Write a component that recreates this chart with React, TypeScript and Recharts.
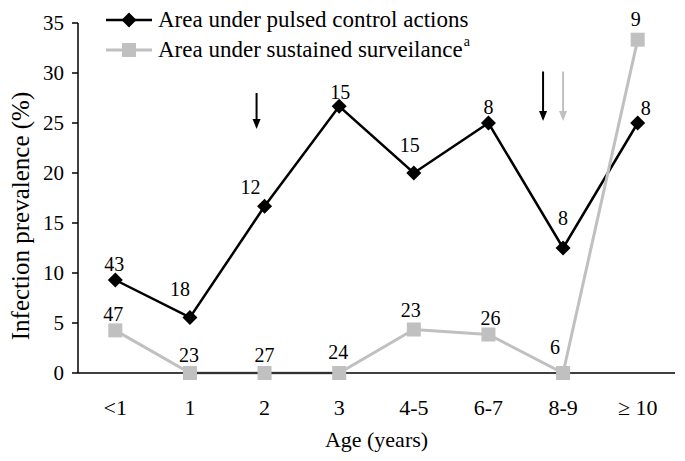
import React from 'react';
import { ComposedChart, Line, XAxis, YAxis, ReferenceLine, LabelList, Legend, Label } from 'recharts';

// ---- data ----
const ageGroups = ['<1', '1', '2', '3', '4-5', '6-7', '8-9', '\u2265 10'];
const pulsedPrevalence = [9.3, 5.56, 16.67, 26.67, 20.0, 25.0, 12.5, 25.0];
const sustainedPrevalence = [4.26, 0, 0, 0, 4.35, 3.85, 0, 33.33];
const pulsedSampleSizes = [43, 18, 12, 15, 15, 8, 8, 8];
const sustainedSampleSizes = [47, 23, 27, 24, 23, 26, 6, 9];
const yTicks = [0, 5, 10, 15, 20, 25, 30, 35];
const boundaryTicks = [0, 1, 2, 3, 4, 5, 6, 7, 8];
const pulsedArrowAges = ['2', '8-9'];
const sustainedArrowAges = ['8-9'];
const seriesNames = ['Area under pulsed control actions', 'Area under sustained surveilance'];

const data = ageGroups.map((age, i) => ({
  age,
  pulsed: pulsedPrevalence[i],
  sustained: sustainedPrevalence[i],
  nPulsed: pulsedSampleSizes[i],
  nSustained: sustainedSampleSizes[i],
}));

// ---- styles ----
const FONT = '"Liberation Serif", "Times New Roman", serif';
const BLACK = '#000000';
const GRAY = '#c0c0c0';

// label offsets (px) relative to each point
const pulsedLabelOffsets = [[-1, -16], [-10, -28], [-14, -19], [1, -14], [-4, -28], [0, -16], [0, -30], [8, -15]];
const sustainedLabelOffsets = [[-2, -16], [-1, -18], [0, -18], [-1, -21], [-3, -20], [2, -17], [-8, -26], [-2, -21]];
// arrow placement: [dx px, top value, tip value]
const pulsedArrowStyle = [[-8, 28.0, 24.4], [-20, 30.15, 25.2]];
const sustainedArrowStyle = [[0, 30.15, 25.2]];

const diamondDot = (props: any) => {
  const { cx, cy, index } = props;
  if (cx == null || cy == null) return <g key={`pd-${index}`} />;
  const r = 7.5;
  return (
    <path key={`pd-${index}`} d={`M${cx},${cy - r}L${cx + r},${cy}L${cx},${cy + r}L${cx - r},${cy}Z`} fill={BLACK} />
  );
};

const squareDot = (props: any) => {
  const { cx, cy, index } = props;
  if (cx == null || cy == null) return <g key={`sd-${index}`} />;
  const h = 7;
  return <rect key={`sd-${index}`} x={cx - h} y={cy - h} width={2 * h} height={2 * h} fill={GRAY} />;
};

const makeLabel = (offsets: number[][]) => (props: any) => {
  const { x, y, index, value } = props;
  if (x == null || y == null) return null;
  const [dx, dy] = offsets[index] || [0, -16];
  return (
    <text
      key={`lbl-${index}-${value}`}
      x={x + dx}
      y={y + dy}
      textAnchor="middle"
      dominantBaseline="central"
      fontFamily={FONT}
      fontSize={20}
      fill={BLACK}
    >
      {value}
    </text>
  );
};

const makeArrow = (color: string, dx: number) => (p: any) => {
  const x = p.x1 + dx;
  const yTop = Math.min(p.y1, p.y2);
  const yTip = Math.max(p.y1, p.y2);
  return (
    <g>
      <line x1={x} y1={yTop} x2={x} y2={yTip - 8} stroke={color} strokeWidth={2} />
      <polygon points={`${x - 4},${yTip - 10} ${x + 4},${yTip - 10} ${x},${yTip}`} fill={color} />
    </g>
  );
};

const LegendContent = () => (
  <div style={{ fontFamily: FONT, fontSize: 23, color: BLACK, lineHeight: '30px' }}>
    <div style={{ display: 'flex', alignItems: 'center', height: 30 }}>
      <svg width={46} height={16} style={{ display: 'block' }}>
        <line x1={0} y1={8} x2={46} y2={8} stroke={BLACK} strokeWidth={2.5} />
        <path d="M23,0.5L30.5,8L23,15.5L15.5,8Z" fill={BLACK} />
      </svg>
      <span style={{ marginLeft: 6, whiteSpace: 'nowrap' }}>{seriesNames[0]}</span>
    </div>
    <div style={{ display: 'flex', alignItems: 'center', height: 30 }}>
      <svg width={46} height={16} style={{ display: 'block' }}>
        <line x1={0} y1={8} x2={46} y2={8} stroke={GRAY} strokeWidth={3} />
        <rect x={16} y={1} width={14} height={14} fill={GRAY} />
      </svg>
      <span style={{ marginLeft: 6, whiteSpace: 'nowrap' }}>
        {seriesNames[1]}
        <sup style={{ fontSize: 14, verticalAlign: 'top', position: 'relative', top: -8, marginLeft: 1 }}>a</sup>
      </span>
    </div>
  </div>
);

const YTitle = (props: any) => {
  const vb = props.viewBox || { x: 0, y: 0, width: 0, height: 0 };
  const cx = vb.x + 20;
  const cy = vb.y + vb.height / 2 + 18;
  return (
    <text
      x={cx}
      y={cy}
      transform={`rotate(-90, ${cx}, ${cy})`}
      textAnchor="middle"
      dominantBaseline="central"
      fontFamily={FONT}
      fontSize={25}
      fill={BLACK}
    >
      Infection prevalence (%)
    </text>
  );
};

export default function App() {
  return (
    <div style={{ position: 'absolute', left: 0, top: 0, width: 685, height: 461, background: '#fff' }}>
      <ComposedChart width={685} height={461} data={data} margin={{ top: 23, right: 10, bottom: 0, left: 0 }}>
        <XAxis
          xAxisId="bounds"
          type="number"
          domain={[0, 8]}
          ticks={boundaryTicks}
          interval={0}
          allowDataOverflow
          height={8}
          tick={false}
          tickSize={7}
          axisLine={{ stroke: BLACK, strokeWidth: 1.5 }}
          tickLine={{ stroke: BLACK, strokeWidth: 1.5 }}
        />
        <XAxis
          xAxisId="cat"
          dataKey="age"
          type="category"
          scale="band"
          height={80}
          axisLine={false}
          tickLine={false}
          tickSize={0}
          tickMargin={18}
          interval={0}
          tick={{ fontFamily: FONT, fontSize: 22, fill: BLACK }}
        >
          <Label value="Age (years)" position="insideBottom" offset={14} style={{ fontFamily: FONT, fontSize: 22, fill: BLACK }} />
        </XAxis>
        <YAxis
          domain={[0, 35]}
          ticks={yTicks}
          interval={0}
          width={78}
          tickSize={6}
          tickMargin={8}
          axisLine={{ stroke: BLACK, strokeWidth: 1.5 }}
          tickLine={{ stroke: BLACK, strokeWidth: 1.5 }}
          tick={{ fontFamily: FONT, fontSize: 21, fill: BLACK }}
        >
          <Label content={YTitle} />
        </YAxis>
        <Legend
          layout="horizontal"
          verticalAlign="middle"
          align="center"
          content={LegendContent}
          wrapperStyle={{ position: 'absolute', left: 106, top: 5, width: 'auto', height: 'auto' }}
        />
        <Line
          xAxisId="cat"
          dataKey="pulsed"
          stroke={BLACK}
          strokeWidth={2.5}
          dot={diamondDot}
          activeDot={false}
          isAnimationActive={false}
        >
          <LabelList dataKey="nPulsed" content={makeLabel(pulsedLabelOffsets)} />
        </Line>
        <Line
          xAxisId="cat"
          dataKey="sustained"
          stroke={GRAY}
          strokeWidth={3}
          dot={squareDot}
          activeDot={false}
          isAnimationActive={false}
        >
          <LabelList dataKey="nSustained" content={makeLabel(sustainedLabelOffsets)} />
        </Line>
        {pulsedArrowAges.map((age, i) => (
          <ReferenceLine
            key={`pa-${age}`}
            xAxisId="cat"
            segment={[{ x: age, y: pulsedArrowStyle[i][1] }, { x: age, y: pulsedArrowStyle[i][2] }]}
            shape={makeArrow(BLACK, pulsedArrowStyle[i][0])}
            ifOverflow="visible"
          />
        ))}
        {sustainedArrowAges.map((age, i) => (
          <ReferenceLine
            key={`sa-${age}`}
            xAxisId="cat"
            segment={[{ x: age, y: sustainedArrowStyle[i][1] }, { x: age, y: sustainedArrowStyle[i][2] }]}
            shape={makeArrow(GRAY, sustainedArrowStyle[i][0])}
            ifOverflow="visible"
          />
        ))}
      </ComposedChart>
    </div>
  );
}
